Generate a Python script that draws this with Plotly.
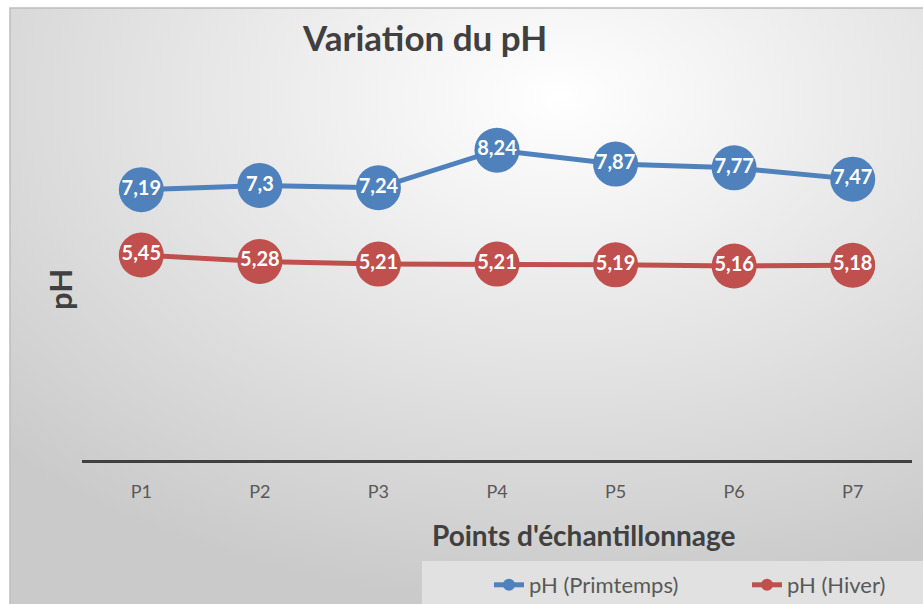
import base64
import plotly.graph_objects as go

categories = ["P1", "P2", "P3", "P4", "P5", "P6", "P7"]
ph_printemps = [7.19, 7.3, 7.24, 8.24, 7.87, 7.77, 7.47]
ph_hiver = [5.45, 5.28, 5.21, 5.21, 5.19, 5.16, 5.18]
series_names = ["pH (Primtemps)", "pH (Hiver)"]
colors = ["#4F81BD", "#C0504D"]

W, H = 923, 604
L, R, T, B = 82, 11, 84, 144
PW, PH = W - L - R, H - T - B


def px(xp):
    return (xp - L) / PW


def py(yp):
    return (H - B - yp) / PH


def fmt(v):
    return f"{v:g}".replace(".", ",")


FONT = "Lato, 'Open Sans', sans-serif"

fig = go.Figure()
for name, vals, col in zip(series_names, [ph_printemps, ph_hiver], colors):
    fig.add_trace(go.Scatter(
        x=categories, y=vals, mode="lines+markers+text",
        line=dict(color=col, width=5),
        marker=dict(size=45, color=col),
        text=[fmt(v) for v in vals], textposition="middle center",
        textfont=dict(family=FONT, size=20, color="white", weight="bold"),
        showlegend=False, hoverinfo="skip", cliponaxis=False,
    ))
    fig.add_trace(go.Scatter(
        x=[None], y=[None], mode="lines+markers", name=name,
        line=dict(color=col, width=5), marker=dict(size=12, color=col),
    ))

svg = (
    '<svg xmlns="http://www.w3.org/2000/svg" width="913" height="596" '
    'viewBox="0 0 913 596" preserveAspectRatio="none"><defs>'
    '<radialGradient id="g" cx="0.6" cy="0.15" r="0.85" gradientUnits="objectBoundingBox">'
    '<stop offset="0" stop-color="#ffffff"/><stop offset="1" stop-color="#cacaca"/>'
    '</radialGradient></defs><rect width="913" height="596" fill="url(#g)"/></svg>'
)
src = "data:image/svg+xml;base64," + base64.b64encode(svg.encode()).decode()
fig.add_layout_image(dict(
    source=src, xref="paper", yref="paper", x=px(10), y=py(8),
    sizex=px(W) - px(10), sizey=py(8) - py(H), sizing="stretch",
    xanchor="left", yanchor="top", layer="below",
))

fig.add_shape(type="rect", xref="paper", yref="paper",
              x0=px(422), x1=px(W + 5), y0=py(561), y1=py(H + 5),
              fillcolor="#e1e1e1", line=dict(width=0), layer="below")
fig.add_shape(type="path", xref="paper", yref="paper",
              path=f"M {px(10)} {py(H)} L {px(10)} {py(8)} L {px(W)} {py(8)}",
              line=dict(color="#bdbdbd", width=1.5))

fig.add_annotation(text="Variation du pH", xref="paper", yref="paper",
                   x=px(424), y=py(37), showarrow=False,
                   xanchor="center", yanchor="middle",
                   font=dict(family=FONT, size=35, color="#404040", weight="bold"))
fig.add_annotation(text="Points d'échantillonnage", xref="paper", yref="paper",
                   x=px(584), y=py(535), showarrow=False,
                   xanchor="center", yanchor="middle",
                   font=dict(family=FONT, size=28, color="#404040", weight="bold"))
fig.add_annotation(text="pH", xref="paper", yref="paper", textangle=-90,
                   x=px(60), y=py(290), showarrow=False,
                   xanchor="center", yanchor="middle",
                   font=dict(family=FONT, size=31, color="#404040", weight="bold"))

fig.update_layout(
    width=W, height=H,
    margin=dict(l=L, r=R, t=T, b=B, autoexpand=False),
    paper_bgcolor="white", plot_bgcolor="rgba(0,0,0,0)",
    font=dict(family=FONT, color="#595959"),
    xaxis=dict(type="category", range=[-0.5, 6.5], showline=True,
               linecolor="#404040", linewidth=3, showgrid=False, zeroline=False,
               ticks="", tickfont=dict(size=18, color="#595959"),
               ticklabelstandoff=13),
    yaxis=dict(range=[0, 10], showticklabels=False, showgrid=False,
               zeroline=False, showline=False, ticks=""),
    legend=dict(orientation="h", x=px(489), y=py(564), xanchor="left",
                yanchor="top", bgcolor="rgba(0,0,0,0)",
                font=dict(size=22, color="#595959"),
                entrywidth=213, entrywidthmode="pixels"),
    showlegend=True,
)

fig.write_html("out.html", config={"displayModeBar": False},
               post_script="document.body.style.margin='0';document.body.style.overflow='hidden';")
